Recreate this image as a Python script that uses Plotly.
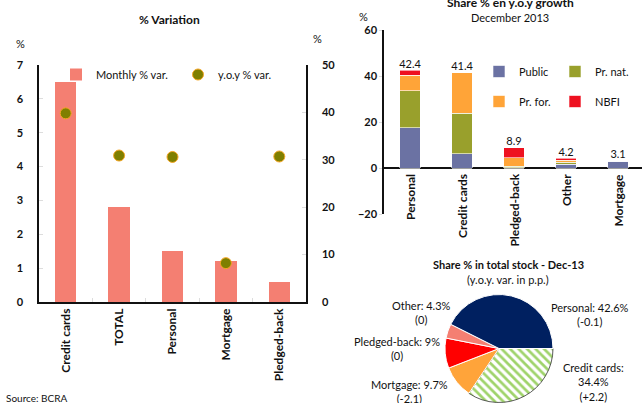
import plotly.graph_objects as go

# ---- Left chart data ----
var_categories = ["Credit cards", "TOTAL", "Personal", "Mortgage", "Pledged-back"]
monthly_var = [6.5, 2.8, 1.5, 1.2, 0.6]
yoy_var = [39.8, 30.9, 30.6, 8.2, 30.7]

# ---- Right top chart data ----
share_categories = ["Personal", "Credit cards", "Pledged-back", "Other", "Mortgage"]
public = [17.6, 6.2, 0.2, 1.6, 3.0]
pr_nat = [16.0, 17.6, 0.6, 0.8, 0.0]
pr_for = [6.8, 17.6, 3.7, 1.0, 0.1]
nbfi = [2.0, 0.0, 4.4, 0.8, 0.0]
share_totals = [42.4, 41.4, 8.9, 4.2, 3.1]

# ---- Pie data ----
pie_labels = ["Credit cards", "Mortgage", "Pledged-back", "Other", "Personal"]
pie_values = [34.4, 9.7, 9.0, 4.3, 42.6]
pie_var = ["+2.2", "-2.1", "0", "0", "-0.1"]

FONT = "Lato"
BLACK = "#111111"
W, H = 642, 403

fig = go.Figure()

# Left chart
fig.add_trace(go.Bar(
    x=var_categories, y=monthly_var, name="Monthly % var.",
    marker=dict(color="#F47F72", line=dict(width=0)), width=0.4,
    xaxis="x", yaxis="y", legend="legend"))
fig.add_trace(go.Scatter(
    x=var_categories, y=yoy_var, name="y.o.y % var.", mode="markers",
    marker=dict(color="#7F7F00", size=11, line=dict(color="#F5A623", width=1)),
    xaxis="x", yaxis="y2", legend="legend"))

# Right top chart (stacked)
stack_series = [("Public", public, "#6B72A3", "legend2"),
                ("Pr. nat.", pr_nat, "#99A02C", "legend2"),
                ("Pr. for.", pr_for, "#FFA438", "legend3"),
                ("NBFI", nbfi, "#EE1120", "legend3")]
for name, vals, col, leg in stack_series:
    fig.add_trace(go.Bar(
        x=share_categories, y=vals, name=name,
        marker=dict(color=col, line=dict(color="white", width=0.6)), width=0.4,
        xaxis="x2", yaxis="y3", legend=leg))
fig.add_trace(go.Scatter(
    x=share_categories, y=share_totals, mode="text",
    text=[f"{v:.1f}" for v in share_totals], textposition="top center",
    textfont=dict(family=FONT, size=11, color=BLACK), showlegend=False,
    xaxis="x2", yaxis="y3", cliponaxis=False))

# Pie
fig.add_trace(go.Pie(
    labels=pie_labels, values=pie_values, sort=False, direction="clockwise",
    rotation=90, textinfo="none", showlegend=False,
    marker=dict(colors=["#9FD36A", "#FFA43A", "#FF0000", "#F47F72", "#002060"],
                line=dict(color=["#333333", "white", "white", "white", "white"],
                          width=[0.8, 1, 1, 1, 1]),
                pattern=dict(shape=["\\", "", "", "", ""], bgcolor="white",
                             fillmode="replace", size=6, solidity=0.45)),
    domain=dict(x=[445 / W, 553 / W], y=[0.0, 1 - 294 / H])))

# Pie labels
pie_pos = {"Personal": (590, 314), "Credit cards": (593, 382), "Mortgage": (409, 391),
           "Pledged-back": (397, 348), "Other": (421, 312)}
annotations = []
for lab, val, vv in zip(pie_labels, pie_values, pie_var):
    px, py = pie_pos[lab]
    vs = f"{val:g}%"
    if lab == "Credit cards":
        txt = f"{lab}:<br>{vs}<br>({vv})"
    else:
        txt = f"{lab}: {vs}<br>({vv})"
    annotations.append(dict(x=px / W, y=1 - py / H, xref="paper", yref="paper",
                            text=txt, showarrow=False, align="center",
                            xanchor="center", yanchor="middle",
                            font=dict(family=FONT, size=11, color=BLACK)))

# Category labels for right chart at zero line
for c in share_categories:
    annotations.append(dict(x=c, y=0, xref="x2", yref="y3", text=f"<b>{c}</b>",
                            textangle=-90, showarrow=False, yanchor="top",
                            xanchor="center", yshift=-4,
                            font=dict(family=FONT, size=12, color=BLACK)))

def ptxt(text, x, y, size=11, xanchor="center", yanchor="middle"):
    annotations.append(dict(x=x / W, y=1 - y / H, xref="paper", yref="paper",
                            text=text, showarrow=False, xanchor=xanchor,
                            yanchor=yanchor, font=dict(family=FONT, size=size, color=BLACK)))

ptxt("<b>% Variation</b>", 170, 19, 12)
ptxt("%", 20, 43, 11)
ptxt("%", 317, 38, 11)
ptxt("<b>Share % en y.o.y growth</b>", 510, 3, 12)
ptxt("December 2013", 510, 18, 11)
ptxt("%", 363, 16, 11)
ptxt("<b>Share % in total stock - Dec-13</b>", 508, 264, 11)
ptxt("(y.o.y. var. in p.p.)", 508, 279, 11)
ptxt("Source: BCRA", 4, 398, 10, xanchor="left")

legend_common = dict(orientation="h", xanchor="left", yanchor="top",
                     bgcolor="rgba(0,0,0,0)", entrywidthmode="pixels",
                     font=dict(family=FONT, size=11, color=BLACK),
                     itemwidth=30, traceorder="normal")

tick_font = dict(family=FONT, size=11, color=BLACK)
cat_font = dict(family=FONT, size=12, color=BLACK)

fig.update_layout(
    template="none",
    width=W, height=H, margin=dict(l=0, r=0, t=0, b=0, autoexpand=False),
    paper_bgcolor="white", plot_bgcolor="rgba(0,0,0,0)",
    font=dict(family=FONT, size=11, color=BLACK),
    barmode="stack", bargap=0.6,
    annotations=annotations,
    xaxis=dict(domain=[39 / W, 306 / W], anchor="y", showline=True,
               linecolor=BLACK, linewidth=1.5, ticks="inside", tickson="boundaries",
               tickcolor="#DDDDDD", ticklen=4, tickangle=-90, automargin=False,
               tickmode="array", tickvals=var_categories,
               ticktext=[f"<b>{c}</b>" for c in var_categories],
               tickfont=cat_font, showgrid=False, zeroline=False),
    yaxis=dict(domain=[1 - 302 / H, 1 - 65 / H], range=[0, 7], dtick=1,
               showline=True, linecolor=BLACK, linewidth=1.5, ticks="inside",
               tickcolor="#DDDDDD", ticklen=4, showgrid=False, zeroline=False,
               automargin=False, tickprefix="<b>", ticksuffix="</b>",
               tickfont=tick_font, ticklabelstandoff=12),
    yaxis2=dict(overlaying="y", side="right", anchor="x", range=[0, 50], dtick=10,
                showline=True, linecolor=BLACK, linewidth=1.5, ticks="inside",
                tickcolor="#DDDDDD", ticklen=4, showgrid=False, zeroline=False,
                automargin=False, tickprefix="<b>", ticksuffix="</b>",
                tickfont=tick_font, ticklabelstandoff=12),
    xaxis2=dict(domain=[384 / W, 1.0], anchor="y3", range=[-0.5, 4.46],
                showline=False, showticklabels=False, ticks="", showgrid=False,
                zeroline=False, automargin=False),
    yaxis3=dict(domain=[1 - 214 / H, 1 - 30 / H], anchor="x2", range=[-20, 60],
                dtick=20, showline=True, linecolor=BLACK, linewidth=1.5,
                ticks="outside", tickcolor="#DDDDDD", ticklen=3, showgrid=False,
                zeroline=True, zerolinecolor=BLACK, zerolinewidth=1.5,
                automargin=False, tickprefix="<b>", ticksuffix="</b>",
                tickfont=tick_font),
    legend=dict(x=56 / W, y=1 - 60 / H, entrywidth=77, **legend_common),
    legend2=dict(x=479 / W, y=1 - 57 / H, entrywidth=31, **legend_common),
    legend3=dict(x=479 / W, y=1 - 87 / H, entrywidth=31, **legend_common),
)

fig.write_html("out.html", config={"displayModeBar": False},
               post_script="document.body.style.margin='0';")
